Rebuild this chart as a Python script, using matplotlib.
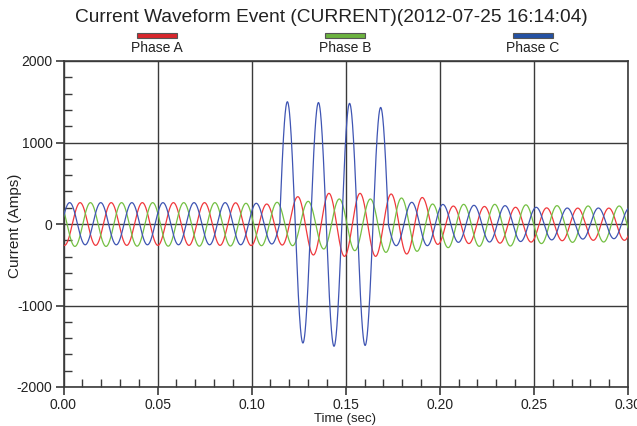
import numpy as np
import matplotlib
matplotlib.use('Agg')
import matplotlib.pyplot as plt
from matplotlib import font_manager
from matplotlib.patches import Rectangle
from matplotlib.ticker import MultipleLocator

TITLE = 'Current Waveform Event (CURRENT)(2012-07-25 16:14:04)'
PHASE_NAMES = ['Phase A', 'Phase B', 'Phase C']
X_TICKS = [0.00, 0.05, 0.10, 0.15, 0.20, 0.25, 0.30]
Y_TICKS = [-2000, -1000, 0, 1000, 2000]

# mains frequency
FREQ = 60.5
HALF_PERIOD = 1 / (2 * FREQ)

# half-cycle extremes (peak / trough, alternating)
PHASE_A_START = -0.0077
PHASE_A_EXTREMES = [260, -262, 262, -262, 262, -262, 262, -262, 262, -262,
                    262, -262, 260, -264, 245, -258, 335, -380, 376, -397,
                    376, -397, 368, -368, 325, -250, 220, -240, 215, -235,
                    205, -222, 198, -205, 195, -200, 195, -200, 195]

PHASE_B_START = -0.0022
PHASE_B_EXTREMES = [262, -275, 262, -275, 262, -272, 262, -272, 262, -272,
                    262, -270, 254, -266, 266, -266, 278, -307, 307, -327,
                    307, -348, 319, -335, 245, -290, 241, -274, 241, -270,
                    235, -240, 225, -225, 221, -221, 221, -221]

PHASE_C_START = -0.0050
PHASE_C_EXTREMES = [-255, 262, -255, 262, -255, 262, -255, 262, -255, 262,
                    -255, 262, -255, 254, -245, 250, -250, 250, -250, 250,
                    -250, 250, -266, 266, -266, 240, -225, 229, -221, 225,
                    -215, 205, -195, 196, -185, 196, -180, 196]

# fault current on phase C, peaks of each half cycle
FAULT_PEAKS = [1500, -1460, 1490, -1500, 1480, -1490, 1430]
FAULT_FIRST_INDEX = 15
FAULT_ON = 0.1150
FAULT_OFF = 0.1727

COLORS = ['#f0383c', '#74c043', '#3f55b3']
LEGEND_COLORS = ['#d8262c', '#6cb33f', '#2451a4']


def pick_font(names):
    installed = {f.name for f in font_manager.fontManager.ttflist}
    for name in names:
        if name in installed:
            return name
    return 'DejaVu Sans'


def half_cycle_wave(t, t_first, extremes):
    v = np.asarray(extremes, dtype=float)
    pos = (t - t_first) / HALF_PERIOD
    n = np.clip(np.floor(pos).astype(int), 0, len(v) - 2)
    frac = pos - n
    a, b = v[n], v[n + 1]
    return (a + b) / 2 + (a - b) / 2 * np.cos(np.pi * frac)


font = pick_font(['Liberation Sans Narrow', 'Liberation Sans', 'Roboto'])
plt.rcParams['font.family'] = [font, 'DejaVu Sans']
text_color = '#222222'
grid_color = '#3a3a3a'

t = np.linspace(0, 0.30, 3001)
phase_a = half_cycle_wave(t, PHASE_A_START, PHASE_A_EXTREMES)
phase_b = half_cycle_wave(t, PHASE_B_START, PHASE_B_EXTREMES)
phase_c = half_cycle_wave(t, PHASE_C_START, PHASE_C_EXTREMES)

peaks = np.array(FAULT_PEAKS, dtype=float)
fault_extremes = np.r_[-peaks[0], peaks, -peaks[-1]]
fault_start = PHASE_C_START + (FAULT_FIRST_INDEX - 1) * HALF_PERIOD
fault = half_cycle_wave(t, fault_start, fault_extremes)
in_fault = (t >= FAULT_ON) & (t <= FAULT_OFF)
phase_c = np.where(in_fault, fault, phase_c)

fig = plt.figure(figsize=(6.37, 4.26), dpi=100)
W, H = 637, 426
ax = fig.add_axes([63.5 / W, 1 - 387 / H, (628 - 63.5) / W, (387 - 61) / H])

for y, color in zip([phase_a, phase_b, phase_c], COLORS):
    ax.plot(t, y, color=color, lw=0.9, zorder=3)

ax.set_xlim(0, 0.30)
ax.set_ylim(-2000, 2000)
ax.set_xticks(X_TICKS)
ax.set_xticklabels([f'{x:.2f}' for x in X_TICKS])
ax.set_yticks(Y_TICKS)
ax.set_yticklabels([str(y) for y in Y_TICKS])
ax.xaxis.set_minor_locator(MultipleLocator(0.01))
ax.yaxis.set_minor_locator(MultipleLocator(200))
ax.grid(True, which='major', color=grid_color, lw=1.0, zorder=1)
ax.tick_params(which='major', direction='out', length=6, width=1.2,
               color=grid_color, labelsize=10, labelcolor=text_color, pad=2)
ax.tick_params(which='minor', direction='in', length=6, width=1.0,
               color=grid_color)
for spine in ax.spines.values():
    spine.set_color(grid_color)
    spine.set_linewidth(1.2)

fig.text(331 / W, 1 - 18 / H, TITLE, ha='center', va='center',
         fontsize=13.8, color=text_color)
fig.text(15 / W, 1 - 226 / H, 'Current (Amps)', rotation=90,
         ha='center', va='center', fontsize=11, color=text_color)
fig.text(345 / W, 1 - 419 / H, 'Time (sec)', ha='center', va='center',
         fontsize=9.5, color=text_color)

# legend: coloured bar above each phase name
for i, (name, color) in enumerate(zip(PHASE_NAMES, LEGEND_COLORS)):
    cx = 157 + i * 188
    fig.add_artist(Rectangle(((cx - 20) / W, 1 - 37.5 / H), 40 / W, 5 / H,
                             transform=fig.transFigure, facecolor=color,
                             edgecolor='#555555', lw=0.8))
    fig.text(cx / W, 1 - 48 / H, name, ha='center', va='center',
             fontsize=10, color=text_color)

fig.savefig('out.png', dpi=100)
